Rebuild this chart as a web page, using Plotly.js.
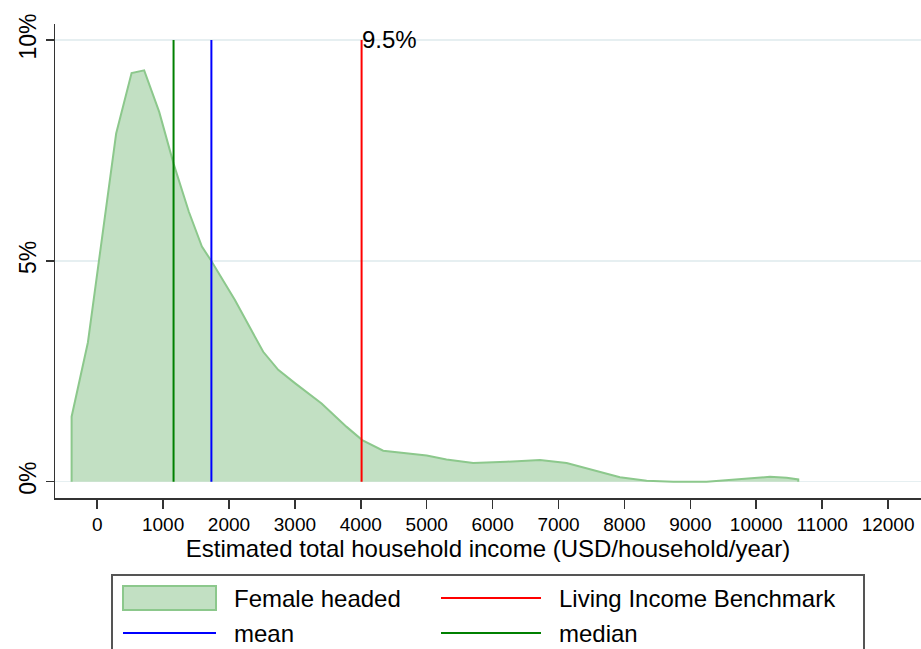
<!DOCTYPE html>
<html>
<head>
<meta charset="utf-8">
<script src="https://cdn.plot.ly/plotly-3.0.1.min.js"></script>
<style>html,body{margin:0;padding:0;background:#fff;}#chart{width:921px;height:649px;}</style>
</head>
<body>
<div id="chart"></div>
<script>
// Density of estimated household income (percent), female headed households
const incomeX = [-388, -141, 288, 522, 713, 941, 1159, 1391, 1589, 1730, 2090, 2519, 2747, 3000, 3405, 3785, 4021, 4340, 4745, 5000, 5300, 5706, 6212, 6718, 7123, 7527, 7932, 8337, 8741, 9247, 9753, 10208, 10461, 10638];
const densityPct = [1.47, 3.15, 7.88, 9.25, 9.31, 8.37, 7.2, 6.11, 5.32, 5.0, 4.11, 2.94, 2.53, 2.23, 1.77, 1.24, 0.94, 0.70, 0.64, 0.59, 0.50, 0.42, 0.45, 0.49, 0.42, 0.26, 0.10, 0.02, 0.0, 0.0, 0.05, 0.11, 0.09, 0.05];

const livingIncomeBenchmark = 4012;
const meanIncome = 1733;
const medianIncome = 1159;
const benchmarkShareLabel = "9.5%";

const xTickVals = [0,1000,2000,3000,4000,5000,6000,7000,8000,9000,10000,11000,12000];
const xTickText = ["0","1000","2000","3000","4000","5000","6000","7000","8000","9000","10000","11000","12000"];
const yTickVals = [0, 5, 10];
const yTickText = ["0%", "5%", "10%"];
const lineTop = 10;

const seriesNames = ["Female headed", "Living Income Benchmark", "mean", "median"];
const seriesColors = ["rgb(140,200,140)", "#ff0000", "#0000ff", "#008000"];
const fillColor = "rgb(194,224,195)";

// close polygon down to the baseline
const polyX = [incomeX[0]].concat(incomeX, [incomeX[incomeX.length-1]]);
const polyY = [0].concat(densityPct, [0]);

const traces = [
  {x: polyX, y: polyY, type: 'scatter', mode: 'lines', fill: 'toself',
   fillcolor: fillColor, line: {color: seriesColors[0], width: 2}, name: seriesNames[0]},
  {x: [livingIncomeBenchmark, livingIncomeBenchmark], y: [0, lineTop], type: 'scatter', mode: 'lines',
   line: {color: seriesColors[1], width: 2}, name: seriesNames[1]},
  {x: [meanIncome, meanIncome], y: [0, lineTop], type: 'scatter', mode: 'lines',
   line: {color: seriesColors[2], width: 2}, name: seriesNames[2]},
  {x: [medianIncome, medianIncome], y: [0, lineTop], type: 'scatter', mode: 'lines',
   line: {color: seriesColors[3], width: 2}, name: seriesNames[3]}
];

// manual legend (paper coordinates; plot area is 866 x 474 px, origin at (55, 498))
const PL = 55, PW = 866, PB = 498, PH = 474;
const px = v => (v - PL) / PW;
const py = v => (PB - v) / PH;
const legendShapes = [
  {type: 'rect', xref: 'paper', yref: 'paper', x0: px(112), x1: px(864), y0: py(575), y1: py(655),
   line: {color: '#555', width: 2}, fillcolor: 'rgba(0,0,0,0)'},
  {type: 'rect', xref: 'paper', yref: 'paper', x0: px(123), x1: px(216), y0: py(586), y1: py(610),
   line: {color: seriesColors[0], width: 2}, fillcolor: fillColor},
  {type: 'line', xref: 'paper', yref: 'paper', x0: px(441), x1: px(541), y0: py(598), y1: py(598),
   line: {color: seriesColors[1], width: 2}},
  {type: 'line', xref: 'paper', yref: 'paper', x0: px(123), x1: px(216), y0: py(633), y1: py(633),
   line: {color: seriesColors[2], width: 2}},
  {type: 'line', xref: 'paper', yref: 'paper', x0: px(441), x1: px(541), y0: py(633), y1: py(633),
   line: {color: seriesColors[3], width: 2}}
];
const legendTextPos = [[232, 598], [557, 598], [232, 633], [557, 633]];
const legendAnnots = seriesNames.map((n, i) => ({
  xref: 'paper', yref: 'paper', x: px(legendTextPos[i][0]), y: py(legendTextPos[i][1]),
  text: n, showarrow: false, xanchor: 'left', yanchor: 'middle', font: {size: 24}
}));

const layout = {
  width: 921, height: 649,
  margin: {l: 55, r: 0, t: 24, b: 151},
  paper_bgcolor: '#fff', plot_bgcolor: '#fff',
  font: {family: 'Liberation Sans, Arial, sans-serif', color: '#000'},
  showlegend: false,
  xaxis: {range: [-640, 12500], tickvals: xTickVals, ticktext: xTickText, ticks: 'outside', ticklen: 9, tickwidth: 1.5,
    tickcolor: '#333', showline: true, linecolor: '#333', linewidth: 1.5, showgrid: false, zeroline: false,
    tickfont: {size: 19}, title: {text: 'Estimated total household income (USD/household/year)', font: {size: 24}, standoff: 4}},
  yaxis: {range: [-0.37, 10.36], tickvals: yTickVals, ticktext: yTickText, ticks: 'outside', ticklen: 8, tickwidth: 1.5,
    tickcolor: '#333', showline: true, linecolor: '#333', linewidth: 1.5, showgrid: true, gridcolor: '#e6eff1',
    gridwidth: 1.5, zeroline: false, tickangle: -90, tickfont: {size: 23}},
  shapes: legendShapes,
  annotations: [{x: livingIncomeBenchmark, y: lineTop, xref: 'x', yref: 'y', text: benchmarkShareLabel,
    showarrow: false, xanchor: 'left', yanchor: 'middle', xshift: -2, font: {size: 24}}].concat(legendAnnots)
};

Plotly.newPlot('chart', traces, layout, {displayModeBar: false, staticPlot: true});
</script>
</body>
</html>
